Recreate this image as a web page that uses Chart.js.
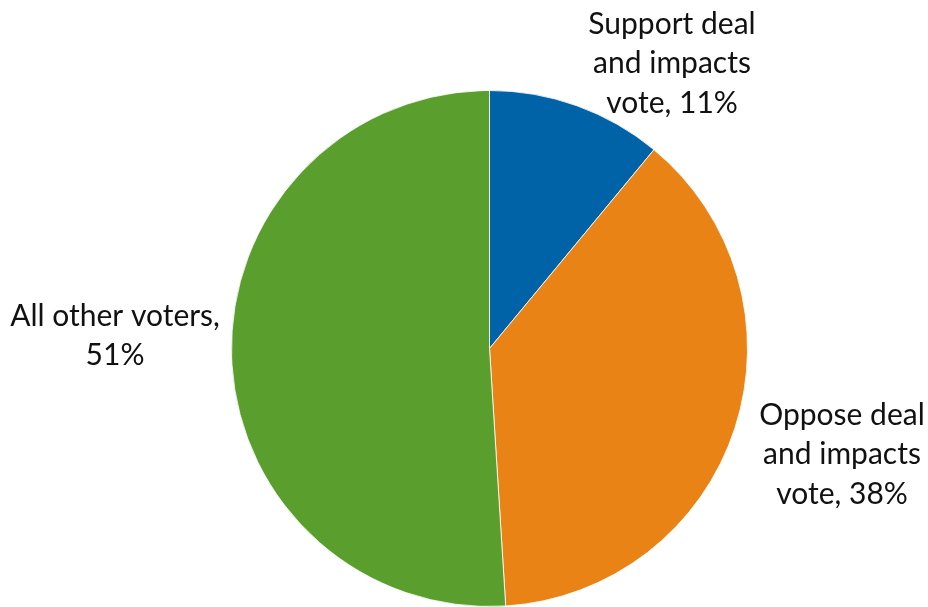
<!DOCTYPE html>
<html>
<head>
<meta charset="utf-8">
<script src="https://cdn.jsdelivr.net/npm/chart.js@4/dist/chart.umd.min.js"></script>
<style>
  html, body { margin: 0; padding: 0; background: #fff; overflow: hidden; }
  #wrap { width: 928px; height: 607px; }
</style>
</head>
<body>
<div id="wrap"><canvas id="pie_chart" width="928" height="607"></canvas></div>
<script>
var categories = ['Support deal and impacts vote', 'Oppose deal and impacts vote', 'All other voters'];
var shares = [11, 38, 51];
var sliceColors = ['#0063A7', '#E98316', '#5A9F2E'];

// label lines and where they sit (text anchor centre, first line y)
var labelLines = [
  ['Support deal', 'and impacts', 'vote, 11%'],
  ['Oppose deal', 'and impacts', 'vote, 38%'],
  ['All other voters,', '51%']
];
var labelPos = [[672, 24], [842, 415], [115, 316]];

var labelPlugin = {
  id: 'outsideLabels',
  afterDraw: function(chart) {
    var ctx = chart.ctx;
    ctx.save();
    ctx.font = '30px Lato, "Open Sans", sans-serif';
    ctx.fillStyle = '#111';
    ctx.textAlign = 'center';
    ctx.textBaseline = 'middle';
    for (var i = 0; i < labelLines.length; i++) {
      for (var j = 0; j < labelLines[i].length; j++) {
        ctx.fillText(labelLines[i][j], labelPos[i][0], labelPos[i][1] + j * 39.5);
      }
    }
    ctx.restore();
  }
};

var chart = new Chart(document.getElementById('pie_chart').getContext('2d'), {
  type: 'pie',
  data: {
    labels: categories,
    datasets: [{
      data: shares,
      backgroundColor: sliceColors,
      borderColor: 'rgba(255, 255, 255, 0.8)',
      borderWidth: 1,
      hoverOffset: 0
    }]
  },
  options: {
    responsive: false,
    animation: false,
    layout: { padding: { top: 90, bottom: 0, left: 231, right: 180 } },
    plugins: {
      legend: { display: false },
      tooltip: { enabled: false }
    }
  },
  plugins: [labelPlugin]
});
</script>
</body>
</html>
